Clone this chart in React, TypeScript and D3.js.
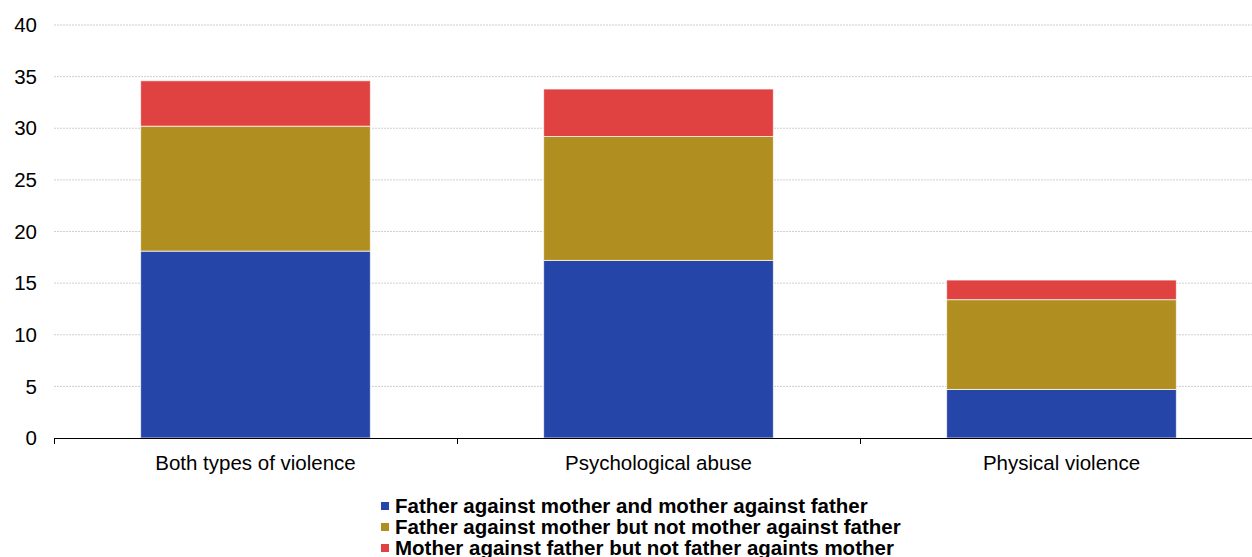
import React from "react";
import * as d3 from "d3";

const categories = ["Both types of violence", "Psychological abuse", "Physical violence"];
const seriesNames = [
  "Father against mother and mother against father",
  "Father against mother but not mother against father",
  "Mother against father but not father againts mother",
];
const bothValues = [18.1, 12.1, 4.4];
const psychValues = [17.2, 12.0, 4.6];
const physValues = [4.7, 8.7, 1.9];
const yTicks = [0, 5, 10, 15, 20, 25, 30, 35, 40];
const colors = ["#2645a8", "#b08f20", "#e04242"];

const W = 1252;
const H = 557;

export default function App() {
  const rows = [bothValues, psychValues, physValues].map((vals, i) => {
    const o: any = { cat: categories[i] };
    seriesNames.forEach((s, j) => (o[s] = vals[j]));
    return o;
  });
  const stacked = d3.stack().keys(seriesNames)(rows);
  const x = d3.scaleBand().domain(categories).range([54, 1263]).paddingInner(0.43).paddingOuter(0.215);
  const xb = d3.scaleBand().domain(categories).range([54, 1263]);
  const y = d3.scaleLinear().domain([0, 40]).range([438, 25]);
  const font = "Liberation Sans, Arial, sans-serif";
  const fs = 20.5;

  return (
    <svg width={W} height={H} style={{ position: "absolute", left: 0, top: 0 }} fontFamily={font}>
      <rect width={W} height={H} fill="#fff" />
      {yTicks.map((t) => (
        <g key={t}>
          {t > 0 && (
            <line x1={54} x2={W} y1={y(t)} y2={y(t)} stroke="#cfcfcf" strokeWidth={1} strokeDasharray="2,1" />
          )}
          <text x={37} y={y(t)} dy="0.35em" textAnchor="end" fontSize={fs} fill="#000">
            {t}
          </text>
        </g>
      ))}
      {stacked.map((layer, si) => (
        <g key={si} fill={colors[si]}>
          {layer.map((d: any, i) => (
            <rect
              key={i}
              x={x(d.data.cat)}
              width={x.bandwidth()}
              y={y(d[1])}
              height={y(d[0]) - y(d[1])}
              stroke="#fff"
              strokeOpacity={0.7}
              strokeWidth={1}
            />
          ))}
        </g>
      ))}
      <line x1={54} x2={W} y1={438.5} y2={438.5} stroke="#000" strokeWidth={1.2} />
      {[...categories.map((c) => xb(c) as number), 1263].map((v, i) => (
        <line key={i} x1={v + 0.5} x2={v + 0.5} y1={438} y2={444} stroke="#000" strokeWidth={1} />
      ))}
      {categories.map((c) => (
        <text key={c} x={(xb(c) as number) + xb.bandwidth() / 2} y={462.5} dy="0.35em" textAnchor="middle" fontSize={fs} fill="#000">
          {c}
        </text>
      ))}
      {seriesNames.map((s, i) => (
        <g key={s} transform={`translate(381, ${506 + i * 21})`}>
          <rect x={0} y={-4} width={8} height={8} fill={colors[i]} />
          <text x={14} y={0} dy="0.35em" fontSize={fs} fontWeight="bold" fill="#000">
            {s}
          </text>
        </g>
      ))}
    </svg>
  );
}
